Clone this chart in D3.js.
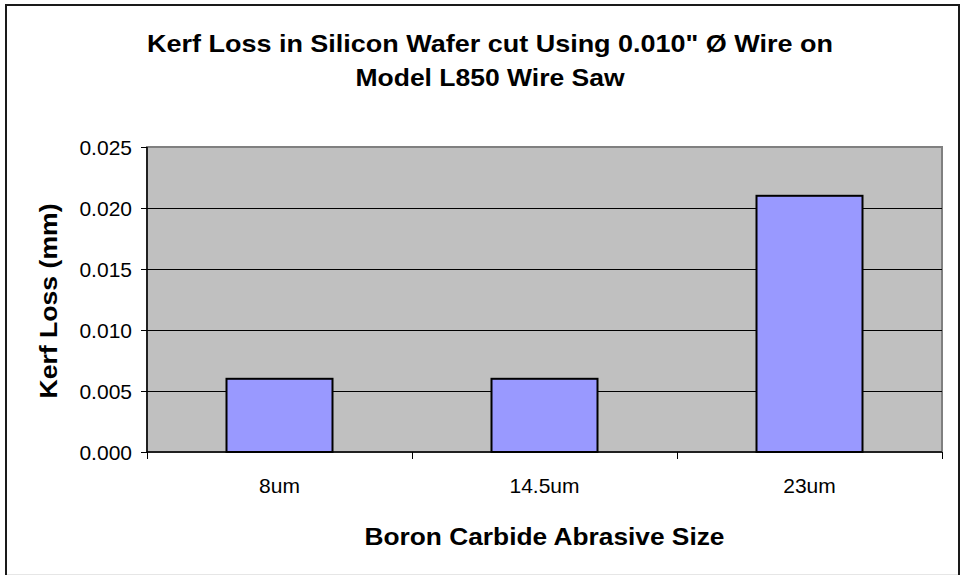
<!DOCTYPE html>
<html>
<head>
<meta charset="utf-8">
<script src="https://cdn.jsdelivr.net/npm/d3@7"></script>
<style>
  html, body { margin: 0; padding: 0; background: #fff; }
  svg { display: block; font-family: "Liberation Sans", Arial, sans-serif; }
</style>
</head>
<body>
<svg id="chart" width="960" height="575"></svg>
<script>
// Abrasive grit sizes and measured kerf loss (mm)
const categories = ["8um", "14.5um", "23um"];
const kerfLoss = [0.006, 0.006, 0.021];
const yTicks = [0.000, 0.005, 0.010, 0.015, 0.020, 0.025];
const titleLines = ["Kerf Loss in Silicon Wafer cut Using 0.010\" \u00D8 Wire on", "Model L850 Wire Saw"];
const xTitle = "Boron Carbide Abrasive Size";
const yTitle = "Kerf Loss (mm)";

const svg = d3.select("#chart");
const plot = { left: 147, top: 147, right: 942, bottom: 452 };

// Outer chart frame (bottom edge runs past the viewport)
svg.append("rect")
  .attr("x", 6).attr("y", 5)
  .attr("width", 953).attr("height", 590)
  .attr("fill", "#fff").attr("stroke", "#1a1a1a").attr("stroke-width", 2);
svg.append("line")
  .attr("x1", 7).attr("x2", 958).attr("y1", 574.5).attr("y2", 574.5)
  .attr("stroke", "#e6e6e6").attr("stroke-width", 1);

const x = d3.scaleBand()
  .domain(categories)
  .range([plot.left, plot.right])
  .paddingInner(0.6)
  .paddingOuter(0.3);

const y = d3.scaleLinear()
  .domain([0, 0.025])
  .range([plot.bottom, plot.top]);

// Plot area background
svg.append("rect")
  .attr("x", plot.left).attr("y", plot.top)
  .attr("width", plot.right - plot.left).attr("height", plot.bottom - plot.top)
  .attr("fill", "#c0c0c0")
  .attr("stroke", "#808080").attr("stroke-width", 2);

// Horizontal gridlines
svg.append("g")
  .selectAll("line")
  .data(yTicks.filter(d => d > 0 && d < 0.025))
  .join("line")
  .attr("x1", plot.left).attr("x2", plot.right)
  .attr("y1", d => Math.round(y(d)) + 0.5).attr("y2", d => Math.round(y(d)) + 0.5)
  .attr("stroke", "#000").attr("stroke-width", 1);

// Bars
svg.append("g")
  .selectAll("rect")
  .data(categories.map((c, i) => ({ c, v: kerfLoss[i] })))
  .join("rect")
  .attr("x", d => x(d.c))
  .attr("y", d => y(d.v))
  .attr("width", x.bandwidth())
  .attr("height", d => y(0) - y(d.v))
  .attr("fill", "#9999ff")
  .attr("stroke", "#000").attr("stroke-width", 2);

// Y axis
const yAxis = svg.append("g")
  .attr("transform", `translate(${plot.left},0)`)
  .call(d3.axisLeft(y).tickValues(yTicks).tickFormat(d3.format(".3f")).tickSize(6).tickPadding(9));
yAxis.select(".domain").attr("stroke", "#000").attr("stroke-width", 1.5).attr("d", `M0,${plot.top}V${plot.bottom}`);
yAxis.selectAll(".tick line").attr("stroke", "#000");
yAxis.selectAll("text").attr("font-size", 21).attr("fill", "#000")
  .attr("font-family", "'Liberation Sans', Arial, sans-serif")
  .attr("dy", "0.36em");

// X axis: ticks at category boundaries
const boundaries = [plot.left].concat(categories.map(c => x(c) + x.bandwidth() + x.step() * x.paddingInner() / 2));
boundaries[boundaries.length - 1] = plot.right;
const xAxis = svg.append("g").attr("transform", `translate(0,${plot.bottom})`);
xAxis.append("line")
  .attr("x1", plot.left).attr("x2", plot.right)
  .attr("y1", 0).attr("y2", 0)
  .attr("stroke", "#000").attr("stroke-width", 1.5);
xAxis.selectAll("line.tk")
  .data(boundaries)
  .join("line").attr("class", "tk")
  .attr("x1", d => Math.round(d) + 0.5).attr("x2", d => Math.round(d) + 0.5)
  .attr("y1", 0).attr("y2", 7)
  .attr("stroke", "#000");
xAxis.selectAll("text")
  .data(categories)
  .join("text")
  .attr("x", d => x(d) + x.bandwidth() / 2)
  .attr("y", 41)
  .attr("text-anchor", "middle")
  .attr("font-size", 21)
  .text(d => d);

// Axis titles
svg.append("text")
  .attr("x", (plot.left + plot.right) / 2).attr("y", 545)
  .attr("text-anchor", "middle")
  .attr("font-size", 24).attr("font-weight", "bold")
  .attr("textLength", 360).attr("lengthAdjust", "spacingAndGlyphs")
  .text(xTitle);

svg.append("text")
  .attr("transform", "translate(57,301) rotate(-90)")
  .attr("text-anchor", "middle")
  .attr("font-size", 24).attr("font-weight", "bold")
  .attr("textLength", 195).attr("lengthAdjust", "spacingAndGlyphs")
  .text(yTitle);

// Chart title, two centred lines
const titleWidths = [686, 269];
svg.append("g").selectAll("text")
  .data(titleLines)
  .join("text")
  .attr("x", 490)
  .attr("y", (d, i) => 52 + i * 34)
  .attr("text-anchor", "middle")
  .attr("font-size", 24).attr("font-weight", "bold")
  .attr("textLength", (d, i) => titleWidths[i])
  .attr("lengthAdjust", "spacingAndGlyphs")
  .text(d => d);
</script>
</body>
</html>
